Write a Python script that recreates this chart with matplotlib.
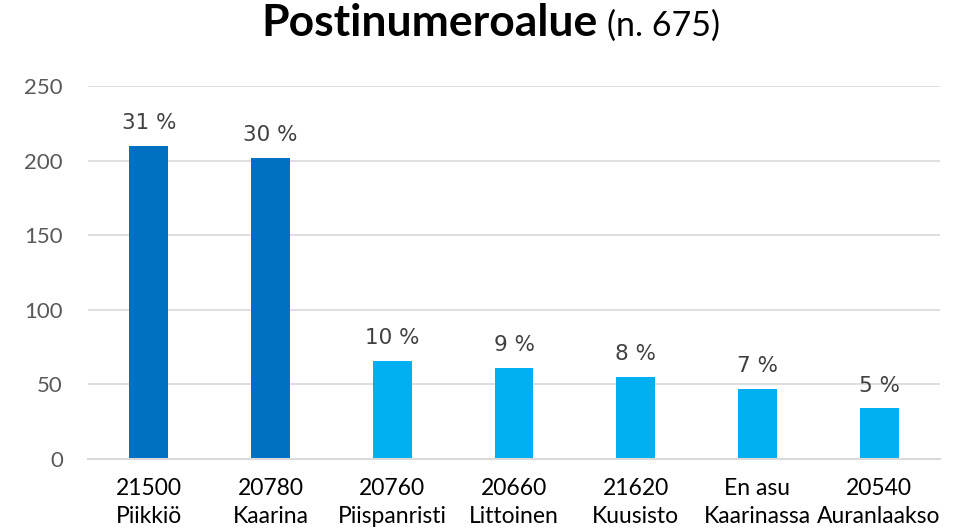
import matplotlib
matplotlib.use("Agg")
import matplotlib.pyplot as plt

# --- Data ---
codes = ["21500", "20780", "20760", "20660", "21620", "En asu", "20540"]
places = ["Piikkiö", "Kaarina", "Piispanristi", "Littoinen", "Kuusisto", "Kaarinassa", "Auranlaakso"]
counts = [210, 202, 66, 61, 55, 47, 34]
pct_labels = ["31 %", "30 %", "10 %", "9 %", "8 %", "7 %", "5 %"]
bar_colors = ["#0070C0", "#0070C0", "#00B0F0", "#00B0F0", "#00B0F0", "#00B0F0", "#00B0F0"]
yticks = [0, 50, 100, 150, 200, 250]

fig = plt.figure(figsize=(9.66, 5.32), dpi=100)
ax = fig.add_axes([88 / 966, 1 - 459 / 532, (940 - 88) / 966, (459 - 86) / 532])

x = list(range(len(codes)))
ax.bar(x, counts, width=0.32, color=bar_colors, zorder=3)

for xi, c, lab in zip(x, counts, pct_labels):
    ax.annotate(lab, (xi, c), xytext=(0, 12), textcoords="offset points",
                ha="center", va="baseline", fontsize=15.5, color="#404040",
                family="DejaVu Sans")

ax.set_xlim(-0.5, len(codes) - 0.5)
ax.set_ylim(0, 250)
ax.set_yticks(yticks)
ax.set_yticklabels([str(t) for t in yticks], family="Lato", fontsize=16, color="#595959")
ax.set_xticks(x)
ax.set_xticklabels([f"{c}\n{p}" for c, p in zip(codes, places)],
                   family="Lato", fontsize=16.5, color="black", linespacing=1.4)
ax.tick_params(axis="both", length=0)
ax.tick_params(axis="y", pad=18)
ax.tick_params(axis="x", pad=14)

ax.grid(axis="y", color="#D9D9D9", linewidth=1.2, zorder=0)
for s in ["top", "right", "left"]:
    ax.spines[s].set_visible(False)
ax.spines["bottom"].set_color("#D9D9D9")
ax.spines["bottom"].set_linewidth(1.5)
ax.spines["bottom"].set_zorder(4)

# --- Title ---
fig.text(598 / 966, 1 - 36 / 532, "Postinumeroalue", ha="right", va="baseline",
         family="Lato", fontweight="bold", fontsize=32)
fig.text(607 / 966, 1 - 36 / 532, "(n. 675)", ha="left", va="baseline",
         family="Lato", fontsize=24.5)

fig.savefig("out.png", dpi=100)
